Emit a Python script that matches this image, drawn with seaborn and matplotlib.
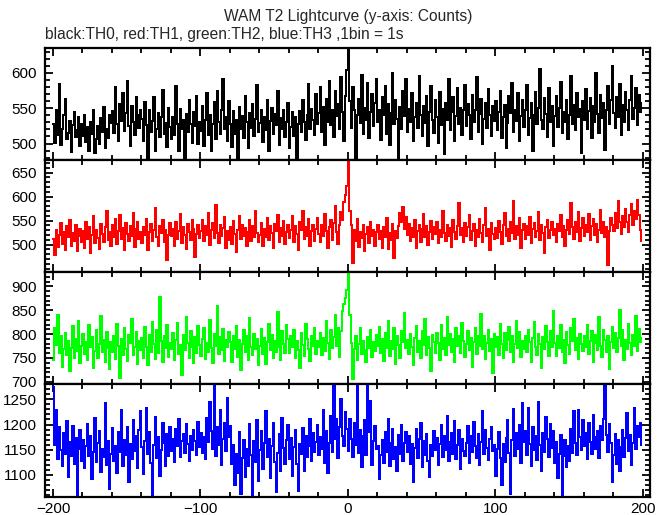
import numpy as np
import pandas as pd
import matplotlib
matplotlib.use("Agg")
import matplotlib.pyplot as plt
from matplotlib.ticker import FixedLocator, MultipleLocator
import seaborn as sns

# --- datos: cuentas por bin de 1 s, desde t=-200 hasta t=199 ---
tiempo = list(range(-200, 200))

th0 = [
    528, 501, 547, 512, 585, 498, 520, 541, 563, 506, 515, 532, 488, 526, 545, 509, 519, 537, 496, 528,
    511, 540, 502, 523, 490, 531, 514, 548, 486, 507, 525, 499, 536, 517, 552, 493, 521, 508, 540, 529,
    546, 515, 580, 527, 504, 556, 532, 571, 518, 543, 589, 525, 496, 553, 530, 512, 566, 540, 522, 548,
    535, 503, 559, 526, 474, 548, 517, 532, 566, 490, 521, 543, 509, 538, 576, 513, 529, 495, 551, 524,
    507, 537, 512, 581, 528, 490, 549, 520, 533, 474, 542, 516, 562, 527, 501, 544, 525, 568, 499, 531,
    518, 553, 497, 534, 571, 512, 540, 489, 528, 559, 506, 575, 531, 514, 548, 592, 521, 538, 503, 560,
    527, 495, 546, 513, 534, 478, 552, 520, 539, 508, 567, 531, 494, 543, 522, 556, 511, 535, 583, 517,
    529, 547, 502, 538, 519, 561, 490, 532, 551, 513, 542, 526, 575, 498, 536, 520, 548, 509, 530, 557,
    493, 524, 545, 511, 537, 472, 528, 546, 517, 562, 531, 505, 541, 585, 521, 549, 534, 512, 570, 528,
    543, 580, 517, 552, 498, 563, 531, 588, 526, 547, 509, 575, 539, 556, 521, 594, 545, 503, 568, 604,
    645, 560, 522, 580, 547, 472, 541, 563, 529, 597, 514, 551, 533, 586, 508, 545, 570, 525, 558, 591,
    531, 548, 505, 566, 540, 582, 513, 556, 498, 543, 600, 527, 561, 535, 478, 552, 520, 574, 539, 591,
    516, 549, 530, 571, 504, 537, 558, 522, 596, 541, 511, 553, 529, 567, 496, 544, 582, 533, 515, 562,
    538, 501, 573, 526, 549, 485, 557, 534, 592, 519, 545, 566, 503, 539, 578, 528, 551, 512, 547, 583,
    525, 556, 540, 506, 569, 531, 548, 594, 517, 542, 563, 499, 535, 558, 522, 577, 541, 510, 553, 532,
    560, 519, 545, 575, 508, 538, 554, 494, 529, 567, 543, 586, 516, 548, 532, 571, 503, 539, 561, 524,
    547, 583, 512, 536, 558, 490, 541, 573, 527, 551, 605, 534, 520, 565, 542, 509, 578, 531, 553, 497,
    539, 568, 524, 550, 587, 515, 545, 530, 562, 506, 541, 596, 528, 555, 519, 572, 537, 549, 486, 560,
    533, 577, 520, 546, 564, 508, 553, 531, 600, 542, 515, 569, 536, 557, 491, 548, 582, 527, 561, 610,
    543, 522, 566, 538, 584, 512, 555, 530, 573, 547, 519, 562, 596, 535, 551, 578, 526, 569, 545, 558,
]

th1 = [
    512, 478, 530, 496, 521, 545, 502, 527, 489, 538, 515, 551, 497, 524, 508, 542, 486, 519, 533, 505,
    528, 494, 547, 511, 536, 482, 520, 559, 503, 531, 514, 490, 543, 522, 506, 537, 571, 509, 526, 498,
    540, 517, 553, 501, 529, 561, 512, 535, 488, 546, 523, 507, 538, 519, 566, 496, 532, 548, 511, 527,
    503, 536, 520, 554, 489, 527, 543, 508, 531, 576, 515, 498, 539, 524, 552, 506, 530, 468, 521, 545,
    518, 533, 497, 548, 512, 528, 563, 504, 537, 520, 491, 544, 526, 509, 551, 532, 475, 523, 540, 513,
    529, 552, 507, 538, 521, 567, 499, 531, 546, 514, 582, 525, 503, 541, 519, 535, 557, 493, 528, 510,
    536, 502, 549, 523, 485, 530, 559, 511, 541, 519, 534, 497, 527, 552, 508, 539, 516, 571, 524, 505,
    521, 545, 498, 532, 517, 556, 509, 538, 524, 492, 543, 529, 561, 506, 535, 518, 550, 501, 527, 540,
    514, 531, 560, 506, 539, 522, 488, 547, 530, 571, 511, 536, 519, 553, 498, 528, 542, 507, 533, 556,
    523, 505, 541, 518, 564, 529, 493, 537, 552, 510, 546, 581, 527, 502, 540, 569, 551, 588, 603, 622,
    676, 571, 540, 462, 531, 508, 553, 495, 527, 514, 541, 486, 522, 536, 503, 548, 519, 531, 497, 526,
    540, 511, 529, 494, 537, 516, 556, 490, 524, 509, 543, 473, 528, 514, 538, 566, 547, 579, 532, 558,
    521, 544, 508, 535, 517, 552, 493, 529, 541, 505, 532, 564, 515, 538, 499, 526, 550, 512, 537, 522,
    548, 503, 531, 516, 570, 525, 508, 542, 519, 535, 496, 551, 527, 512, 539, 586, 521, 534, 505, 545,
    518, 537, 562, 509, 528, 543, 497, 531, 515, 553, 524, 506, 540, 576, 519, 532, 488, 546, 523, 511,
    535, 514, 549, 527, 502, 541, 566, 518, 533, 507, 548, 525, 591, 512, 539, 521, 556, 494, 530, 544,
    512, 538, 521, 557, 503, 532, 546, 517, 528, 569, 509, 541, 525, 483, 536, 552, 514, 530, 547, 520,
    533, 506, 544, 528, 561, 515, 539, 498, 530, 551, 522, 587, 536, 511, 547, 526, 569, 508, 534, 555,
    519, 542, 527, 563, 510, 538, 553, 521, 544, 506, 531, 572, 525, 548, 517, 537, 458, 529, 556, 541,
    528, 565, 534, 590, 547, 522, 559, 536, 575, 548, 526, 561, 585, 540, 571, 553, 594, 562, 530, 508,
]

th2 = [
    745, 812, 778, 840, 760, 795, 731, 768, 803, 757, 786, 722, 771, 817, 749, 790, 764, 828, 739, 776,
    801, 758, 783, 746, 819, 772, 794, 729, 765, 808, 751, 779, 837, 762, 788, 742, 805, 770, 726, 784,
    763, 796, 748, 822, 775, 709, 790, 756, 813, 769, 744, 798, 781, 832, 757, 773, 804, 738, 785, 767,
    792, 751, 815, 774, 736, 799, 763, 826, 779, 748, 809, 760, 877, 786, 741, 795, 771, 819, 753, 782,
    768, 803, 745, 787, 824, 759, 777, 714, 798, 766, 835, 781, 750, 807, 773, 740, 793, 761, 816, 778,
    755, 790, 812, 747, 781, 763, 829, 771, 739, 800, 776, 858, 758, 794, 766, 811, 744, 787, 772, 805,
    783, 742, 797, 769, 816, 753, 788, 724, 779, 809, 762, 795, 746, 833, 774, 757, 801, 768, 790, 735,
    775, 810, 758, 792, 737, 784, 821, 766, 799, 751, 786, 763, 847, 772, 745, 806, 779, 760, 818, 789,
    761, 796, 773, 808, 749, 785, 766, 730, 802, 778, 755, 822, 790, 768, 743, 797, 775, 812, 759, 786,
    772, 803, 757, 791, 764, 827, 781, 748, 809, 770, 794, 839, 776, 812, 753, 806, 848, 862, 875, 892,
    932, 841, 782, 706, 768, 797, 745, 779, 812, 758, 786, 767, 741, 794, 771, 808, 752, 783, 765, 799,
    776, 815, 760, 789, 743, 803, 771, 828, 754, 786, 769, 812, 738, 795, 777, 751, 806, 783, 844, 770,
    788, 759, 801, 774, 736, 792, 816, 763, 785, 749, 807, 778, 832, 757, 794, 771, 722, 799, 783, 760,
    803, 781, 745, 818, 769, 792, 756, 836, 777, 801, 763, 789, 742, 813, 775, 797, 761, 824, 786, 752,
    779, 806, 766, 791, 731, 784, 812, 758, 797, 775, 843, 769, 796, 748, 782, 809, 764, 790, 719, 801,
    773, 794, 757, 821, 780, 749, 803, 767, 788, 815, 762, 796, 741, 779, 828, 771, 805, 753, 786, 768,
    797, 762, 809, 784, 742, 791, 825, 774, 757, 801, 779, 730, 794, 768, 816, 783, 755, 807, 772, 848,
    781, 754, 797, 770, 819, 763, 788, 739, 804, 777, 758, 812, 785, 831, 766, 792, 748, 801, 779, 764,
    795, 773, 818, 758, 786, 806, 741, 782, 799, 767, 835, 775, 752, 809, 788, 763, 796, 727, 784, 814,
    770, 803, 762, 791, 850, 776, 808, 745, 787, 769, 821, 782, 756, 798, 775, 838, 764, 811, 783, 792,
]

th3 = [
    1275, 1160, 1228, 1132, 1195, 1150, 1118, 1183, 1142, 1207, 1096, 1165, 1137, 1198, 1121, 1174, 1055, 1152, 1189, 1128,
    1170, 1113, 1158, 1201, 1137, 1178, 1092, 1146, 1212, 1125, 1163, 1188, 1105, 1152, 1135, 1243, 1119, 1168, 1071, 1141,
    1193, 1128, 1157, 1104, 1185, 1146, 1229, 1117, 1170, 1139, 1196, 1085, 1161, 1132, 1208, 1148, 1178, 1113, 1189, 1226,
    1155, 1102, 1168, 1232, 1141, 1186, 1124, 1060, 1159, 1214, 1133, 1176, 1097, 1150, 1203, 1164, 1118, 1181, 1138, 1195,
    1147, 1172, 1126, 1191, 1158, 1210, 1135, 1167, 1182, 1143, 1201, 1162, 1128, 1177, 1149, 1190, 1168, 1139, 1205, 1156,
    1184, 1143, 1175, 1132, 1212, 1165, 1245, 1188, 1151, 1282, 1137, 1196, 1160, 1229, 1119, 1172, 1203, 1148, 1252, 1175,
    1198, 1122, 1160, 1080, 1141, 1104, 1185, 1062, 1133, 1170, 1096, 1152, 1118, 1201, 1140, 1057, 1167, 1125, 1208, 1088,
    1149, 1187, 1111, 1163, 1226, 1135, 1172, 1093, 1158, 1203, 1126, 1066, 1144, 1182, 1107, 1213, 1153, 1121, 1169, 1200,
    1131, 1174, 1098, 1155, 1190, 1122, 1067, 1162, 1141, 1193, 1107, 1178, 1135, 1158, 1211, 1127, 1184, 1146, 1166, 1199,
    1139, 1176, 1152, 1228, 1124, 1188, 1103, 1163, 1217, 1145, 1282, 1171, 1210, 1133, 1196, 1250, 1178, 1157, 1224, 1192,
    1148, 1211, 1172, 1136, 1203, 1160, 1283, 1144, 1190, 1115, 1178, 1209, 1139, 1282, 1185, 1247, 1120, 1168, 1197, 1151,
    1158, 1092, 1139, 1170, 1123, 1186, 1145, 1210, 1117, 1163, 1192, 1132, 1155, 1108, 1179, 1141, 1200, 1127, 1164, 1186,
    1145, 1178, 1121, 1162, 1086, 1154, 1192, 1133, 1171, 1203, 1116, 1167, 1140, 1182, 1128, 1095, 1159, 1137, 1188, 1150,
    1174, 1120, 1161, 1199, 1135, 1178, 1149, 1216, 1127, 1166, 1183, 1142, 1206, 1131, 1159, 1190, 1112, 1171, 1147, 1137,
    1163, 1198, 1124, 1177, 1145, 1205, 1158, 1133, 1181, 1119, 1166, 1227, 1142, 1189, 1154, 1129, 1172, 1195, 1148, 1160,
    1097, 1152, 1186, 1134, 1079, 1161, 1125, 1174, 1208, 1143, 1062, 1169, 1231, 1138, 1184, 1151, 1199, 1123, 1242, 1165,
    1187, 1140, 1233, 1162, 1118, 1196, 1150, 1178, 1130, 1245, 1159, 1107, 1183, 1146, 1215, 1171, 1136, 1201, 1153, 1188,
    1124, 1165, 1093, 1142, 1180, 1057, 1137, 1170, 1115, 1158, 1127, 1192, 1144, 1226, 1163, 1139, 1228, 1175, 1149, 1209,
    1157, 1184, 1131, 1204, 1166, 1142, 1219, 1175, 1151, 1188, 1134, 1197, 1169, 1211, 1281, 1180, 1145, 1201, 1163, 1086,
    1140, 1181, 1122, 1170, 1108, 1155, 1190, 1136, 1174, 1223, 1148, 1179, 1119, 1164, 1232, 1152, 1197, 1175, 1203, 1160,
]

canales = ["TH0", "TH1", "TH2", "TH3"]
colores = ["#000000", "#ff0000", "#00ff00", "#0000ff"]
series = [th0, th1, th2, th3]
limites_y = [(477, 636), (443, 677), (695, 930), (1057, 1280)]
ticks_y = [[500, 550, 600], [500, 550, 600, 650], [700, 750, 800, 850, 900], [1100, 1150, 1200, 1250]]

sns.set_style("ticks")
plt.rcParams["font.family"] = ["Liberation Sans", "DejaVu Sans"]

fig = plt.figure(figsize=(6.69, 5.15), dpi=100)
gs = fig.add_gridspec(4, 1, left=45 / 669, right=650 / 669,
                      top=1 - 47.5 / 515, bottom=1 - 496.5 / 515, hspace=0)

for i, (canal, color, y) in enumerate(zip(canales, colores, series)):
    ax = fig.add_subplot(gs[i])
    df = pd.DataFrame({"t": tiempo, "cuentas": y})
    sns.lineplot(data=df, x="t", y="cuentas", ax=ax, color=color,
                 drawstyle="steps-post", linewidth=1.15, estimator=None,
                 antialiased=False)
    ax.set_xlim(-205.4, 205)
    ax.set_ylim(*limites_y[i])
    ax.set_xlabel("")
    ax.set_ylabel("")
    ax.xaxis.set_major_locator(FixedLocator([-200, -100, 0, 100, 200]))
    ax.xaxis.set_minor_locator(MultipleLocator(20))
    ax.yaxis.set_major_locator(FixedLocator(ticks_y[i]))
    ax.yaxis.set_minor_locator(MultipleLocator(10))
    ax.tick_params(which="both", direction="in", top=True, right=True,
                   labelsize=11, width=1.3, colors="black")
    ax.tick_params(which="major", length=6, pad=6)
    ax.tick_params(which="minor", length=3.5)
    ax.tick_params(axis="x", which="major", pad=4)
    for lado in ax.spines.values():
        lado.set_linewidth(1.6)
        lado.set_color("black")
    if i < 3:
        ax.tick_params(labelbottom=False)

fig.text(348 / 669, 1 - 17 / 515, "WAM T2 Lightcurve (y-axis: Counts)",
         ha="center", va="center", fontsize=11.2)
fig.text(45 / 669, 1 - 34 / 515, "black:TH0, red:TH1, green:TH2, blue:TH3 ,1bin = 1s",
         ha="left", va="center", fontsize=11.2)

plt.savefig("out.png", dpi=100)
